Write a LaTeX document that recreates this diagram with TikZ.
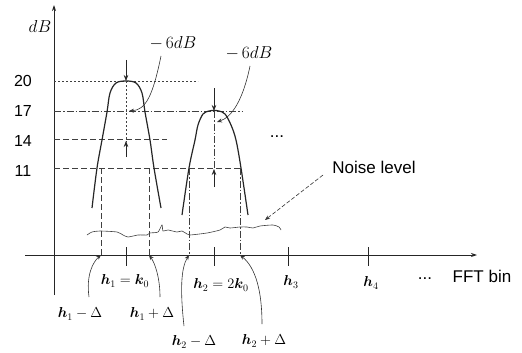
\documentclass[tikz,border=0pt]{standalone}
\usepackage{amsmath,bm}
\usepackage{fontspec}
\setsansfont{Liberation Sans}
\usetikzlibrary{arrows.meta}
\begin{document}
\begin{tikzpicture}[x=1pt,y=-1pt,
  axis/.style={line width=0.9pt,black!85,-{Stealth[length=6pt,width=4pt]}},
  peak/.style={line width=1.2pt,black!85},
  lvl/.style={line width=0.6pt,black!75},
  dotl/.style={lvl,dash pattern=on 2pt off 2pt},
  dashl/.style={lvl,dash pattern=on 6pt off 3pt},
  dashdotl/.style={lvl,dash pattern=on 7pt off 2pt on 1.5pt off 2pt},
  tiparrow/.style={line width=0.7pt,black!85,-{Stealth[length=6pt,width=4.5pt]}},
  callout/.style={line width=0.6pt,black!80,-{Stealth[length=5pt,width=4pt]}},
  tick/.style={line width=0.7pt,black!85},
  num/.style={font=\sffamily\fontsize{16}{18}\selectfont,inner sep=0pt},
  txt/.style={font=\sffamily\fontsize{17}{19}\selectfont,inner sep=0pt},
  mth/.style={font=\fontsize{14.5}{16}\selectfont,inner sep=0pt},
  mthb/.style={font=\fontsize{16}{18}\selectfont,inner sep=0pt}]
\useasboundingbox (0,0) rectangle (522,353);
% axes
\coordinate (yb) at (54,295); \coordinate (yt) at (54,5);
\coordinate (xl) at (25,255); \coordinate (xr) at (477,255);
\draw[axis] (yb) -- (yt);
\draw[axis] (xl) -- (xr);
\node[font=\fontsize{18}{20}\selectfont,inner sep=0pt] (dB) at (40,27) {$dB$};
% level labels
\node[num] (n20) at (23,81) {20};
\node[num] (n17) at (23,111) {17};
\node[num] (n14) at (23,141) {14};
\node[num] (n11) at (23,171) {11};
% level lines
\draw[dotl] (54,81) -- (198,81);
\draw[dashdotl] (54,111) -- (242,111);
\draw[dashl] (54,139) -- (167,139);
\draw[dashl] (54,168) -- (242,168);
% peaks
\draw[peak] plot[smooth,tension=0.55] coordinates {(92,208) (97,168) (102,140) (107,112) (110,93) (116,83) (126,81) (136,83) (142,93) (145,112) (150,140) (154,168) (161,208)};
\draw[peak] plot[smooth,tension=0.55] coordinates {(182,215) (189,168) (195,140) (198,125) (203,114) (209,111) (214,110.5) (219,111) (225,114) (231,125) (236,140) (241,168) (248,215)};
% band verticals
\coordinate (a1) at (101,255); \coordinate (b1) at (149,255);
\coordinate (a2) at (189,255); \coordinate (b2) at (240,255);
\draw[dashl] (101,168) -- (a1);
\draw[dashl] (149,168) -- (b1);
\draw[dashdotl] (189,168) -- (a2);
\draw[dashdotl] (240,168) -- (b2);
% center marks peak 1
\draw[tiparrow] (126,60) -- (126,81);
\draw[dotl] (126,81) -- (126,142);
\draw[tiparrow] (126,157) -- (126,141);
% center marks peak 2
\draw[tiparrow] (214,88) -- (214,111);
\draw[dashdotl] (214,111) -- (214,170);
\draw[tiparrow] (214,187) -- (214,169);
% -6dB callouts
\node[mthb] (m6a) at (173,43) {$-\,6dB$};
\node[mthb] (m6b) at (249,53) {$-\,6dB$};
\coordinate (c6a) at (129,111); \coordinate (c6b) at (217,122);
\coordinate (o6a) at (161,56); \coordinate (o6b) at (250,66);
\draw[callout] (o6a) .. controls (153,95) and (146,110) .. (c6a);
\draw[callout] (o6b) .. controls (243,100) and (232,117) .. (c6b);
% ticks
\draw[tick] (126,247) -- (126,266);
\draw[tick] (214,247) -- (214,266);
\draw[tick] (288,247) -- (288,266);
\draw[tick] (368,247) -- (368,266);
% axis labels
\node[mth] (h1) at (125,281) {$\bm{h}_1=\bm{k}_0$};
\node[mth] (h2) at (221,285) {$\bm{h}_2=2\bm{k}_0$};
\node[mth] (h3) at (291,282) {$\bm{h}_3$};
\node[mth] (h4) at (371,283) {$\bm{h}_4$};
\node[txt,anchor=base] (dots1) at (425,279) {...};
\node[txt] (fft) at (482,276) {FFT bin};
\node[txt,anchor=base] (dots2) at (277,137) {...};
% band labels
\node[mth] (l1m) at (80,314) {$\bm{h}_1-\Delta$};
\node[mth] (l1p) at (152,314) {$\bm{h}_1+\Delta$};
\node[mth] (l2m) at (194,342) {$\bm{h}_2-\Delta$};
\node[mth] (l2p) at (264,341) {$\bm{h}_2+\Delta$};
\coordinate (s1m) at (89,297); \coordinate (s1p) at (160,297);
\coordinate (s2m) at (184,326); \coordinate (s2p) at (262,324);
\draw[callout] (s1m) .. controls (86,275) and (93,262) .. (a1);
\draw[callout] (s1p) .. controls (160,278) and (155,263) .. (b1);
\draw[callout] (s2m) .. controls (180,290) and (181,268) .. (a2);
\draw[callout] (s2p) .. controls (262,292) and (256,268) .. (b2);
% noise
\draw[line width=0.6pt,black!75] plot[smooth,tension=0.4] coordinates {(87,235) (92,232) (100,231) (117,232) (123,235) (128,237) (138,235) (147,235) (150,233) (158,232) (162,225) (163,231) (168,230) (177,232) (182,231) (187,234) (190,235) (207,233) (220,230) (225,227) (230,228) (240,227) (247,227) (253,228) (260,226) (273,225) (279,227) (281,230)};
\node[txt] (noise) at (374,167) {Noise level};
\coordinate (nz) at (265,220);
\draw[callout,dash pattern=on 4pt off 2pt] (323,175) -- (nz);
\end{tikzpicture}
\end{document}
